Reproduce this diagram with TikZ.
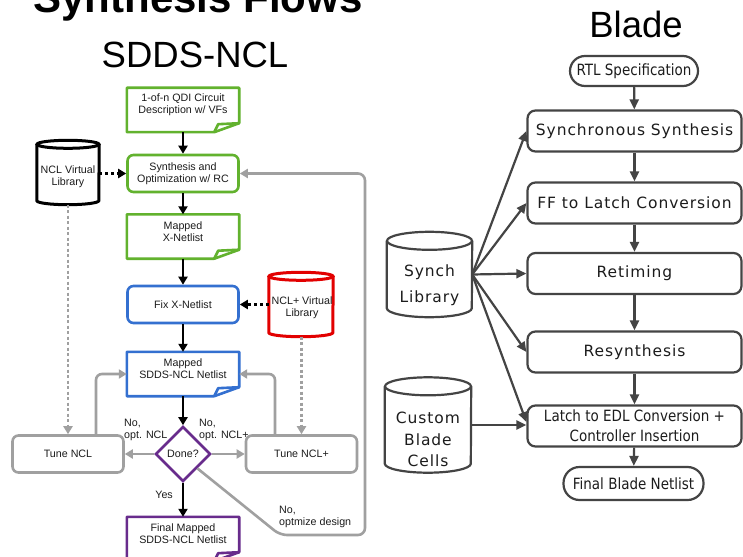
\documentclass[tikz,border=0pt]{standalone}
\usepackage{fontspec}
\setmainfont{Liberation Sans}
\newfontfamily\bladesp[LetterSpace=6]{DejaVu Sans}
\newfontfamily\bladecn[FakeStretch=0.87]{DejaVu Sans}
\usetikzlibrary{arrows.meta,shapes.geometric,calc}

\definecolor{ggreen}{RGB}{98,178,46}
\definecolor{gblue}{RGB}{52,112,208}
\definecolor{gred}{RGB}{226,0,0}
\definecolor{gpurple}{RGB}{104,44,140}
\definecolor{ggray}{RGB}{160,160,160}
\definecolor{bgray}{RGB}{68,68,68}
\definecolor{ink}{RGB}{28,28,28}

% document outline with a folded lower-right corner
\newcommand\drawdoc[2]{%
  \draw[line width=2.6pt, draw=#2, fill=white, line join=round]
    (#1.north west) -- (#1.north east) -- ([yshift=9pt]#1.south east)
    -- ([xshift=-25pt]#1.south east) -- (#1.south west) -- cycle;
  \draw[line width=2.6pt, draw=#2, line join=round]
    ([yshift=9pt]#1.south east) -- ([xshift=-21pt,yshift=8pt]#1.south east)
    -- ([xshift=-25pt]#1.south east);
}
% upright cylinder around an (invisible) node: name, half width, ellipse ry, colour, line width
\newcommand\drawcyl[5]{%
  \fill[white] ([yshift=-#3pt]#1.north west) -- ([yshift=#3pt]#1.south west)
    arc[start angle=180, end angle=360, x radius=#2pt, y radius=#3pt]
    -- ([yshift=-#3pt]#1.north east) -- cycle;
  \draw[draw=#4, line width=#5pt] ([yshift=-#3pt]#1.north west) -- ([yshift=#3pt]#1.south west)
    arc[start angle=180, end angle=360, x radius=#2pt, y radius=#3pt]
    -- ([yshift=-#3pt]#1.north east);
  \draw[draw=#4, line width=#5pt, fill=white] ([yshift=-#3pt]#1.north)
    ellipse[x radius=#2pt, y radius=#3pt];
}

\tikzset{
  flowtxt/.style={font=\fontsize{10.7}{11.7}\selectfont, text=ink, align=center, inner sep=0pt},
  docnode/.style={flowtxt, minimum width=112pt, minimum height=44pt},
  rbox/.style={flowtxt, draw=#1, line width=2.6pt, rounded corners=6pt,
    minimum width=111pt, minimum height=37pt},
  holder/.style={inner sep=0pt},
  blk/.style={line width=2.6pt, draw=black, -{Triangle[length=8pt,width=9pt]}},
  blkdot/.style={line width=3pt, draw=black, dash pattern=on 3pt off 3pt,
    -{Triangle[length=8pt,width=9pt]}},
  gry/.style={line width=2.6pt, draw=ggray, -{Triangle[length=8pt,width=9pt]}},
  grydot/.style={line width=2.6pt, draw=ggray, dash pattern=on 3pt off 2.5pt,
    -{Triangle[length=8pt,width=9pt]}},
  bbox/.style={draw=bgray, line width=2.2pt, rounded corners=8pt, text=ink,
    minimum width=214pt, minimum height=41pt, inner sep=0pt, align=center,
    font=\bladesp\fontsize{15.5}{19.5}\selectfont},
  bstad/.style={bbox, rounded corners=15pt, font=\bladecn\fontsize{15.5}{19.5}\selectfont},
  barr/.style={line width=2.2pt, draw=bgray, -{Triangle[length=10pt,width=9pt]}},
  cyltxt/.style={inner sep=0pt, align=center, text=ink},
}

\begin{document}
\begin{tikzpicture}[x=1pt, y=-1pt]
\useasboundingbox (0,0) rectangle (743,556);
\clip (0,0) rectangle (743,556);
\fill[white] (0,0) rectangle (743,556);

% headings
\node[font=\bfseries\fontsize{42}{42}\selectfont, anchor=base, inner sep=0pt] (title) at (198,13) {Synthesis Flows};
\node[font=\fontsize{36.5}{36.5}\selectfont, anchor=base, inner sep=0pt] (hsdds) at (195,68) {SDDS-NCL};
\node[font=\fontsize{36.5}{36.5}\selectfont, anchor=base, inner sep=0pt] (hblade) at (636,38) {Blade};

% ---------------- SDDS-NCL flow ----------------
\node[docnode] (spec) at (183,110) {};
\drawdoc{spec}{ggreen}
\node[flowtxt] at (spec) [yshift=5pt] {1-of-n QDI Circuit\\Description w/ VFs};

\node[rbox=ggreen] (synth) at (183,173.5) {Synthesis and\\Optimization w/ RC};

\node[docnode] (mapx) at (183,236.5) {};
\drawdoc{mapx}{ggreen}
\node[flowtxt] at (mapx) [yshift=5pt] {Mapped\\X-Netlist};

\node[rbox=gblue] (fix) at (183,304.5) {Fix X-Netlist};

\node[docnode] (mapsd) at (183,374) {};
\drawdoc{mapsd}{gblue}
\node[flowtxt] at (mapsd) [yshift=5pt] {Mapped\\SDDS-NCL Netlist};

\node[diamond, draw=gpurple, line width=2.6pt, minimum width=55pt, minimum height=55pt,
      fill=white, flowtxt] (done) at (183,454) {Done?};

\node[docnode] (final) at (183,539) {};
\drawdoc{final}{gpurple}
\node[flowtxt] at (final) [yshift=5pt] {Final Mapped\\SDDS-NCL Netlist};

\node[rbox=ggray] (tune) at (68,454) {Tune NCL};
\node[rbox=ggray] (tunep) at (301.5,454) {Tune NCL+};

% libraries
\node[holder, minimum width=62pt, minimum height=64pt] (ncllib) at (68,172.5) {};
\drawcyl{ncllib}{31}{4}{black}{3}
\node[flowtxt] (ncllibtxt) at (68,177) {NCL Virtual\\Library};

\node[holder, minimum width=64pt, minimum height=64pt] (nclplib) at (301,304.5) {};
\drawcyl{nclplib}{32}{4}{gred}{3}
\node[flowtxt] (nclplibtxt) at (302,307.5) {NCL+ Virtual\\Library};

% main chain
\draw[blk] (spec) -- (synth);
\draw[blk] (synth) -- (mapx);
\draw[blk] (mapx) -- (fix);
\draw[blk] (fix) -- (mapsd);
\draw[blk] (mapsd) -- (done);
\draw[blk] (done) -- (final);

% library inputs
\draw[blkdot] (ncllib.east |- synth.west) -- (synth.west);
\draw[blkdot] (nclplib.west |- fix.east) -- (fix.east);
\draw[grydot] (ncllib.south) -- (tune.north);
\draw[grydot] (nclplib.south -| tunep.north) -- (tunep.north);

% tuning loops
\draw[gry] (done.west) -- (tune.east);
\draw[gry] (done.east) -- (tunep.west);
\draw[gry, rounded corners=6pt] ([xshift=28pt]tune.north) |- (mapsd.west);
\draw[gry, rounded corners=6pt] ([xshift=-26.5pt]tunep.north) |- (mapsd.east);

% global re-optimisation loop
\coordinate (fbA) at (280,535);
\coordinate (fbB) at (365,535);
\draw[gry, rounded corners=7pt] (done.south east) -- (fbA) -- (fbB) -- (fbB |- synth.east) -- (synth.east);

% branch labels
\node[flowtxt, align=left, anchor=west] (lbna) at (124,430) {No,\\opt. NCL};
\node[flowtxt, align=left, anchor=west] (lbnb) at (199,430) {No,\\opt. NCL+};
\node[flowtxt, anchor=east] (lbyes) at (173,495) {Yes};
\node[flowtxt, align=left, anchor=west] (lbnc) at (279,517) {No,\\optmize design};

% ---------------- Blade flow ----------------
\node[bstad, minimum width=128pt, minimum height=30pt] (rtl) at (634,71) {RTL Specification};
\node[bbox] (sync) at (634.5,131) {Synchronous Synthesis};
\node[bbox] (ff) at (634.5,203) {FF to Latch Conversion};
\node[bbox] (retim) at (634.5,273.5) {Retiming};
\node[bbox] (resyn) at (634.5,352) {Resynthesis};
\node[bbox, font=\bladecn\fontsize{15.5}{20}\selectfont] (latch) at (634.5,426) {Latch to EDL Conversion +\\Controller Insertion};
\node[bstad, minimum width=140pt, minimum height=33pt, rounded corners=16pt] (fbn) at (633.5,483.5) {Final Blade Netlist};

\draw[barr] (rtl) -- (sync);
\draw[barr] (sync) -- (ff);
\draw[barr] (ff) -- (retim);
\draw[barr] (retim) -- (resyn);
\draw[barr] (resyn) -- (latch);
\draw[barr] (latch) -- (fbn);

\node[holder, minimum width=85pt, minimum height=85pt] (synch) at (429.5,274.5) {};
\drawcyl{synch}{42.5}{9}{bgray}{2.2}
\node[cyltxt, font=\bladesp\fontsize{15.5}{26}\selectfont] (synchtxt) at (429.5,285) {Synch\\Library};

\node[holder, minimum width=86pt, minimum height=95pt] (custom) at (428,425) {};
\drawcyl{custom}{43}{9}{bgray}{2.2}
\node[cyltxt, font=\bladesp\fontsize{15.5}{21.5}\selectfont] (customtxt) at (428,439.5) {Custom\\Blade\\Cells};

\draw[barr] (synch.east) -- (sync.west);
\draw[barr] (synch.east) -- (ff.west);
\draw[barr] (synch.east) -- (retim.west);
\draw[barr] (synch.east) -- (resyn.west);
\draw[barr] (synch.east) -- ([yshift=4pt]latch.west);
\draw[barr] (custom.east) -- (custom.east -| latch.west);
\end{tikzpicture}
\end{document}
